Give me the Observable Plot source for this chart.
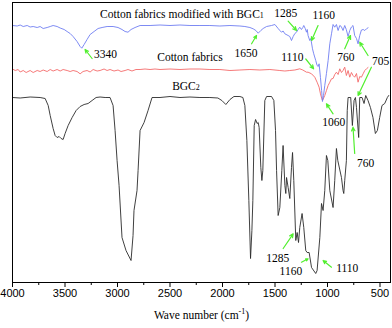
<!DOCTYPE html>
<html><head><meta charset="utf-8">
<script src="https://cdn.jsdelivr.net/npm/d3@7"></script>
<script src="https://cdn.jsdelivr.net/npm/@observablehq/plot@0.6"></script>
<style>body{margin:0;background:#fff}</style>
</head><body><div id="chart"></div>
<script>
// BGC2 (black)
const waveBGC2 = [4000,3927,3832,3737,3689,3660,3641,3613,3594,3575,3556,3537,3518,3499,3470,3432,3394,3356,3318,3280,3242,3204,3166,3118,3071,3042,3023,3004,2985,2957,2919,2871,2852,2843,2814,2804,2785,2747,2709,2671,2595,2500,2405,2310,2215,2120,2044,2006,1968,1929,1891,1834,1806,1787,1768,1749,1733,1720,1711,1698,1685,1670,1660,1651,1635,1625,1616,1597,1580,1533,1511,1495,1485,1470,1454,1435,1423,1406,1397,1390,1375,1359,1343,1333,1321,1302,1289,1276,1264,1242,1226,1207,1194,1175,1152,1112,1099,1073,1057,1042,1026,1010,997,978,947,931,915,902,867,852,845,836,820,812,804,779,763,747,734,724,703,693,671,652,636,614,591,567,544,525,503,481,455,430,417];
const tBGC2 = [185,184.5,185.5,185,184,177,167,154,147,145,146,144,143,149,157,165,172,176,178,179,182,185,185.5,185,185,177,152,122,97,45,32,22,47,72,92,112,152,160,172,185,185,186,185,185.5,185,185,184.5,182,178,183,186,186,185,177,142,82,24,52,82,157,163,159,160,155,115,102,112,182,186,186,182,152,112,67,75,112,137,97,89,105,95,84,115,130,102,42,50,40,55,69,55,32,30,30,15,9,12,45,79,72,92,127,122,92,75,102,134,122,105,92,89,102,122,172,185,185,157,182,185,175,145,185,185,179,187,182,175,165,149,152,165,177,179,185,187];
// Cotton fabrics modified with BGC1 (blue)
const waveMod = [4000,3955,3927,3898,3860,3832,3803,3765,3737,3708,3670,3641,3613,3575,3546,3508,3480,3451,3423,3385,3356,3340,3318,3290,3261,3223,3185,3147,3099,3042,2995,2957,2928,2900,2871,2833,2785,2690,2595,2500,2405,2310,2215,2120,2025,1929,1834,1787,1739,1708,1682,1660,1635,1613,1580,1533,1501,1470,1454,1438,1423,1406,1375,1359,1343,1327,1311,1295,1280,1264,1248,1235,1226,1212,1200,1193,1185,1169,1159,1143,1131,1112,1099,1088,1080,1067,1056,1048,1038,1026,1010,994,978,962,947,931,915,899,883,869,852,836,821,804,788,772,757,741,724,709,693,677,660,645,629,614];
const tMod = [257,256.5,257.5,256,257,255.5,256,255,256,254,255,256,257,256,254.5,253,251,249,246,241,236,234.3,238,243,248,251,254,255,256,256,255,253,251,250.3,253,255,257,257,257.5,257,257.5,257,257,257,256.5,257,256.5,256,255,253.7,252,249.3,252,254,256,257,258,254,252,250.3,251.5,248.7,247,246,242,246,249,250.3,253,255.3,253,255,257,254,250.3,253,247,242,244,233.7,228.7,222,217,216,218.7,205,192,181,187,197,209,222,238.7,248.7,258,255.3,258,252,257,256,252,257,253,246,252,255.5,257,247,244,238.7,247,252.5,253,252,253.7,254.7];
// Cotton fabrics (red)
const waveCot = [4000,3974,3946,3927,3898,3870,3832,3803,3765,3737,3708,3670,3641,3613,3575,3546,3518,3480,3451,3423,3385,3356,3328,3290,3261,3232,3194,3166,3128,3099,3071,3033,2995,2966,2928,2900,2862,2824,2785,2738,2690,2643,2595,2500,2405,2310,2215,2120,2025,1929,1834,1739,1644,1549,1454,1406,1359,1311,1264,1235,1200,1185,1152,1121,1099,1080,1067,1054,1048,1026,1010,994,978,962,947,931,915,899,883,867,852,836,820,804,788,772,757,741,724,709,693,677,661,645,629,614];
const tCot = [213.5,212,213,210.5,212,210,212,210,212,211,212.5,211,213,211.5,213,211.5,213,212,211,212,211,208.7,211,212,210.5,213,211.5,212,213.5,212,213,211.5,212.5,211,212,213,211.5,213,213,213.5,213,213.5,213,213.5,213,213.5,213.5,213,213,212,212.5,213,212.5,213,212,211.5,212,212.5,213.7,212.5,210.3,210.3,208.7,205.3,200.3,195.3,188.7,183.7,182,187,192,197,200.3,203.7,204,208,210.3,208,213.7,210,212,215.3,207,212,205.3,210,207,205.3,209,200.3,206,205.3,208.7,212,213.7,215];
// series labels
const seriesText = ["Cotton fabrics modified with BGC1","Cotton fabrics","BGC2"];
const seriesX = [2386,2310,2348];
const seriesY = [268,225,196];
// peak labels
const peakText = ["3340","1650","1285","1160","1110","1060","760","705","760","1285","1160","1110"];
const peakX = [3114,1777,1397,1035,1335,940,826,493,636,1473,1349,812];
const peakY = [228,229,268.7,267,225,160,225,221,119,24,11,14];
// arrows (tail -> head)
const arrX1 = [3242,1723,1375,1090,1207,947,836,614,582,741,1422,1248,962];
const arrY1 = [224,238.7,261.3,257,223.5,168.7,233.7,227,215.3,129,34,20.3,15.3];
const arrX2 = [3309,1676,1295,1152,1132,1010,781,693,709,757,1327,1185,1042];
const arrY2 = [233,247,252,242,213.7,178.7,247,240.3,187,155.3,48.7,23.7,22];
const majorTicks = [4000,3500,3000,2500,2000,1500,1000,500];
const minorTicks = [3750,3250,2750,2250,1750,1250,750];

const toRows = (w, t) => w.map((d, i) => ({w: d, t: t[i]}));
const bgc2 = toRows(waveBGC2, tBGC2);
const mod = toRows(waveMod, tMod);
const cot = toRows(waveCot, tCot);
const series = seriesText.map((s, i) => ({s, x: seriesX[i], y: seriesY[i]}));
const peaks = peakText.map((s, i) => ({s, x: peakX[i], y: peakY[i]}));
const arrows = arrX1.map((d, i) => ({x1: d, y1: arrY1[i], x2: arrX2[i], y2: arrY2[i]}));
const serif = "Liberation Serif, Times New Roman, serif";

const chart = Plot.plot({
  width: 392, height: 328,
  marginLeft: 12, marginRight: 2, marginTop: 2, marginBottom: 46,
  style: {fontFamily: "Liberation Sans, Arial, sans-serif", fontSize: "11px", color: "#000", background: "#fff"},
  x: {domain: [4000, 400]},
  y: {domain: [0, 280], axis: null},
  marks: [
    Plot.axisX({ticks: majorTicks, tickSize: 5, tickPadding: 2, tickFormat: "d", label: null, stroke: "#000"}),
    Plot.axisX({ticks: minorTicks, tickSize: 3, text: null, label: null, stroke: "#000"}),
    Plot.line(bgc2, {x: "w", y: "t", stroke: "#2a2a2a", strokeWidth: 0.9}),
    Plot.line(cot, {x: "w", y: "t", stroke: "#f46a6a", strokeWidth: 0.9}),
    Plot.line(mod, {x: "w", y: "t", stroke: "#6f7ef2", strokeWidth: 0.9}),
    Plot.arrow(arrows, {x1: "x1", y1: "y1", x2: "x2", y2: "y2", stroke: "#52ef2f", strokeWidth: 1.2, headLength: 5, headAngle: 50}),
    Plot.text(series, {x: "x", y: "y", text: "s", fontFamily: serif, fontSize: 11.5, fill: "#000"}),
    Plot.text(peaks, {x: "x", y: "y", text: "s", fontFamily: serif, fontSize: 11.5, fill: "#000"}),
    Plot.text(["Wave number (cm-1)"], {frameAnchor: "bottom", dy: 36, text: d => d, fontFamily: serif, fontSize: 11.5, fill: "#000"}),
    Plot.frame({stroke: "#000", strokeWidth: 1})
  ]
});
document.getElementById("chart").appendChild(chart);

// subscripts / superscripts as real text
const ns = "http://www.w3.org/2000/svg";
chart.querySelectorAll("text").forEach(t => {
  const txt = t.textContent;
  let m = txt.match(/^(.*BGC)([12])$/);
  if (m) {
    t.textContent = m[1];
    const ts = document.createElementNS(ns, "tspan");
    ts.setAttribute("font-size", "8");
    ts.textContent = m[2];
    t.appendChild(ts);
  }
  m = txt.match(/^(Wave number \(cm)-1\)$/);
  if (m) {
    t.textContent = m[1];
    const sup = document.createElementNS(ns, "tspan");
    sup.setAttribute("font-size", "8");
    sup.setAttribute("dy", "-5");
    sup.textContent = "-1";
    const close = document.createElementNS(ns, "tspan");
    close.setAttribute("dy", "5");
    close.textContent = ")";
    t.appendChild(sup);
    t.appendChild(close);
  }
});
</script>
</body></html>
